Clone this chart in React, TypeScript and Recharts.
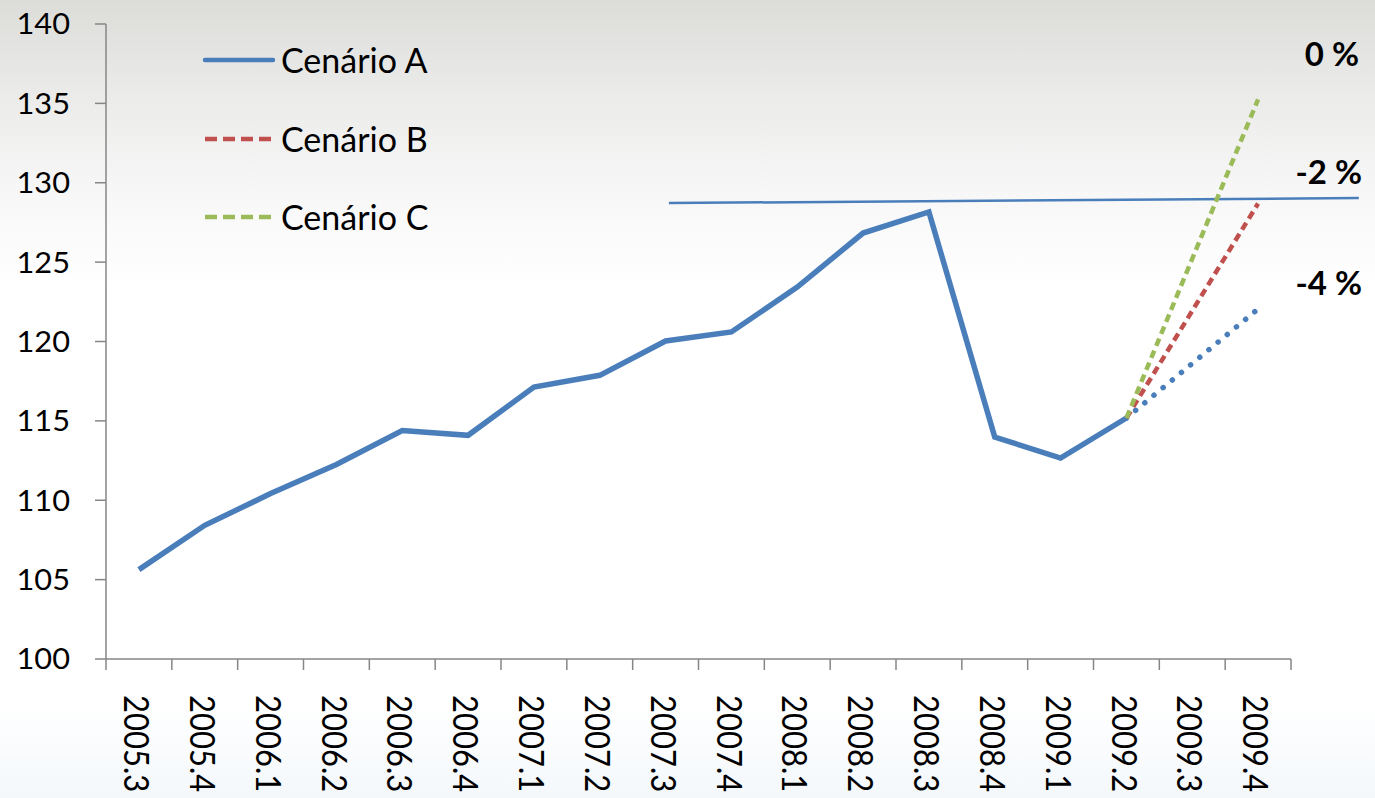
import React from 'react';
import { LineChart, Line, XAxis, YAxis, ReferenceLine, Legend } from 'recharts';

// ---------- data ----------
const quarters = [
  '2005.3', '2005.4', '2006.1', '2006.2', '2006.3', '2006.4',
  '2007.1', '2007.2', '2007.3', '2007.4', '2008.1', '2008.2',
  '2008.3', '2008.4', '2009.1', '2009.2', '2009.3', '2009.4',
];

// historical series (Cenário A, solid)
const cenarioA: (number | null)[] = [
  105.63, 108.42, 110.42, 112.25, 114.39, 114.09,
  117.13, 117.87, 120.03, 120.6, 123.43, 126.83,
  128.16, 113.98, 112.66, 115.18, null, null,
];
// projection -4 % (blue dotted)
const projMinus4: (number | null)[] = [
  null, null, null, null, null, null, null, null, null,
  null, null, null, null, null, null, 115.18, null, 122.05,
];
// Cenário B (-2 %, red dashed)
const cenarioB: (number | null)[] = [
  null, null, null, null, null, null, null, null, null,
  null, null, null, null, null, null, 115.18, null, 128.69,
];
// Cenário C (0 %, green dashed)
const cenarioC: (number | null)[] = [
  null, null, null, null, null, null, null, null, null,
  null, null, null, null, null, null, 115.18, null, 135.25,
];

const yTicks = [100, 105, 110, 115, 120, 125, 130, 135, 140];
const percentLabels = ['0 %', '-2 %', '-4 %'];
const legendItems = [
  { name: 'Cenário A', color: '#4A7EBB', dash: undefined as string | undefined },
  { name: 'Cenário B', color: '#C0504D', dash: '12 6' },
  { name: 'Cenário C', color: '#9BBB59', dash: '12 6' },
];
// reference level line (index positions, values)
const refSegment = [
  { x: 8.05, y: 128.72 },
  { x: 18.53, y: 129.04 },
];

const data = quarters.map((q, i) => ({
  idx: i,
  q,
  a: cenarioA[i],
  d: projMinus4[i],
  b: cenarioB[i],
  c: cenarioC[i],
}));

const xTicks: number[] = [];
for (let i = -0.5; i <= quarters.length - 0.5 + 1e-9; i += 0.5) xTicks.push(i);

const FONT = 'Lato, "Open Sans", sans-serif';
const AXIS = '#868686';

const XTick = (props: any) => {
  const { x, y, payload } = props;
  const v = payload.value as number;
  if (Math.abs(v - Math.round(v)) > 0.01) {
    return <line x1={x} y1={y} x2={x} y2={y + 11} stroke={AXIS} strokeWidth={1.5} />;
  }
  const label = quarters[Math.round(v)];
  return (
    <text
      transform={`translate(${x - 2},${y + 36}) rotate(90) scale(1,1.15)`}
      textAnchor="start"
      dy="0.36em"
      fontSize={31}
      fontFamily={FONT}
      fill="#000"
    >
      {label}
    </text>
  );
};

const YTick = (props: any) => {
  const { x, y, payload } = props;
  return (
    <g>
      <line x1={x - 11} y1={y} x2={x} y2={y} stroke={AXIS} strokeWidth={1.5} />
      <text
        transform={`translate(${x - 36},${y}) scale(1.06,1)`}
        dy="0.36em"
        textAnchor="end"
        fontSize={29}
        fontFamily={FONT}
        fill="#000"
      >
        {payload.value}
      </text>
    </g>
  );
};

const LegendContent = () => (
  <div style={{ fontFamily: FONT }}>
    {legendItems.map((it) => (
      <div key={it.name} style={{ display: 'flex', alignItems: 'center', height: 78.5 }}>
        <svg width={78} height={10} style={{ display: 'block' }}>
          <line
            x1={3}
            y1={5}
            x2={71}
            y2={5}
            stroke={it.color}
            strokeWidth={4.5}
            strokeDasharray={it.dash}
            strokeLinecap={it.dash ? 'butt' : 'round'}
          />
        </svg>
        <span style={{ fontSize: 34, color: '#000', marginLeft: 1, lineHeight: 1 }}>{it.name}</span>
      </div>
    ))}
  </div>
);

export default function App() {
  return (
    <div
      style={{
        position: 'absolute',
        left: 0,
        top: 0,
        width: 1375,
        height: 798,
        overflow: 'hidden',
        background:
          'linear-gradient(180deg, #dcddd9 0%, #ebebea 12%, #f7f7f7 24%, #ffffff 36%, #ffffff 88%, #f4f8fb 100%)',
      }}
    >
      <LineChart
        width={1375}
        height={798}
        data={data}
        margin={{ top: 24, right: 84, bottom: 0, left: 0 }}
        style={{ position: 'absolute', left: 0, top: 0 }}
      >
        <XAxis
          dataKey="idx"
          type="number"
          domain={[-0.5, quarters.length - 0.5]}
          ticks={xTicks}
          interval={0}
          tickLine={false}
          tickSize={0}
          tickMargin={0}
          height={139}
          axisLine={{ stroke: AXIS, strokeWidth: 1.5 }}
          tick={<XTick />}
        />
        <YAxis
          type="number"
          domain={[100, 140]}
          ticks={yTicks}
          interval={0}
          tickLine={false}
          tickSize={0}
          tickMargin={0}
          width={106}
          axisLine={{ stroke: AXIS, strokeWidth: 1.5 }}
          tick={<YTick />}
        />
        <ReferenceLine
          segment={refSegment}
          ifOverflow="visible"
          stroke="#4A7EBB"
          strokeWidth={2.5}
        />
        <Line
          dataKey="a"
          name="Cenário A"
          stroke="#4A7EBB"
          strokeWidth={5.5}
          dot={false}
          activeDot={false}
          isAnimationActive={false}
          strokeLinejoin="miter"
        />
        <Line
          dataKey="d"
          name="-4 %"
          stroke="#4A7EBB"
          strokeWidth={5.5}
          strokeDasharray="0.1 11.8"
          strokeLinecap="round"
          connectNulls
          dot={false}
          activeDot={false}
          isAnimationActive={false}
          legendType="none"
        />
        <Line
          dataKey="b"
          name="Cenário B"
          stroke="#C0504D"
          strokeWidth={4.5}
          strokeDasharray="8 5"
          connectNulls
          dot={false}
          activeDot={false}
          isAnimationActive={false}
        />
        <Line
          dataKey="c"
          name="Cenário C"
          stroke="#9BBB59"
          strokeWidth={4.5}
          strokeDasharray="8 5"
          connectNulls
          dot={false}
          activeDot={false}
          isAnimationActive={false}
        />
        <Legend
          layout="vertical"
          align="center"
          verticalAlign="middle"
          content={<LegendContent />}
          wrapperStyle={{ left: 202, top: 21, width: 280, height: 240 }}
        />
      </LineChart>
      <svg
        width={1375}
        height={798}
        style={{ position: 'absolute', left: 0, top: 0, pointerEvents: 'none' }}
      >
        <text x={1359} y={66} textAnchor="end" fontSize={33} fontWeight={700} fontFamily={FONT} fill="#000">
          {percentLabels[0]}
        </text>
        <text x={1362} y={184} textAnchor="end" fontSize={33} fontWeight={700} fontFamily={FONT} fill="#000">
          {percentLabels[1]}
        </text>
        <text x={1362} y={295} textAnchor="end" fontSize={33} fontWeight={700} fontFamily={FONT} fill="#000">
          {percentLabels[2]}
        </text>
      </svg>
    </div>
  );
}
